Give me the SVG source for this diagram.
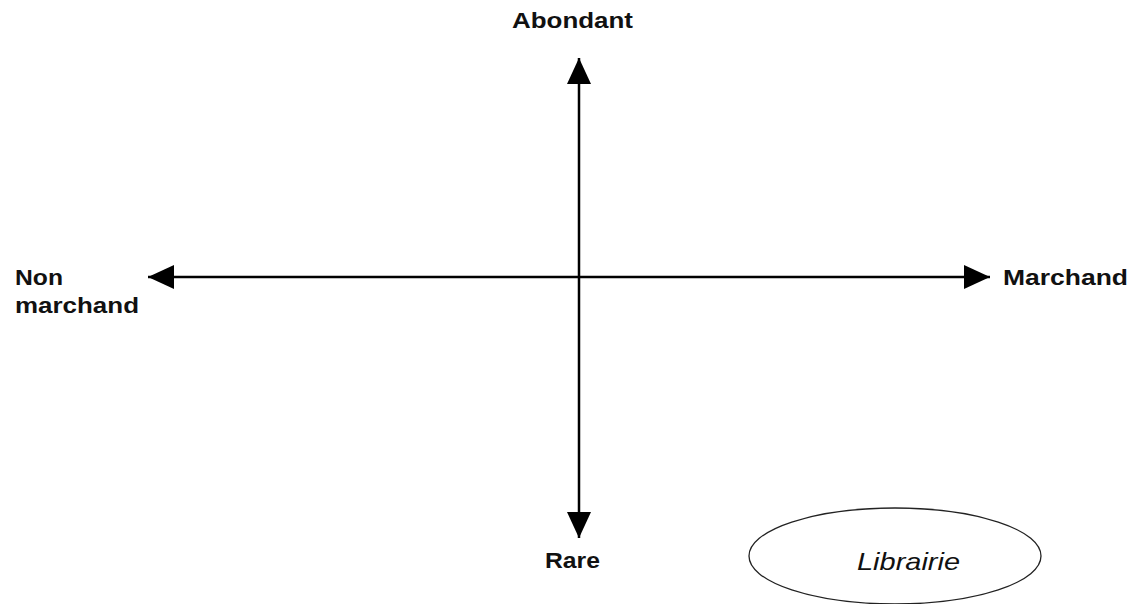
<svg xmlns="http://www.w3.org/2000/svg" width="1134" height="604" viewBox="0 0 1134 604">
<style>
.lbl{font-family:"Liberation Sans",Arial,sans-serif;font-size:22px;font-weight:bold;fill:#111}
.it{font-family:"Liberation Sans",Arial,sans-serif;font-size:24px;font-style:italic;fill:#111}
.ax{stroke:#000;stroke-width:2.5;fill:none}
</style>
<defs>
<marker id="ah" viewBox="0 0 26 24" refX="26" refY="12" markerWidth="26" markerHeight="24" markerUnits="userSpaceOnUse" orient="auto-start-reverse">
<path d="M0,0 L26,12 L0,24 Z" fill="#000"/>
</marker>
</defs>
<rect width="1134" height="604" fill="#fff"/>
<g id="connectors">
<line class="ax" x1="579" y1="58" x2="579" y2="538" marker-start="url(#ah)" marker-end="url(#ah)"/>
<line class="ax" x1="148" y1="277" x2="990" y2="277" marker-start="url(#ah)" marker-end="url(#ah)"/>
</g>
<g id="abondant"><text class="lbl" x="512" y="28" textLength="121" lengthAdjust="spacingAndGlyphs">Abondant</text></g>
<g id="rare"><text class="lbl" x="545" y="568" textLength="55" lengthAdjust="spacingAndGlyphs">Rare</text></g>
<g id="nonmarchand"><text class="lbl" x="15" y="285" textLength="48" lengthAdjust="spacingAndGlyphs">Non</text><text class="lbl" x="15" y="313" textLength="124" lengthAdjust="spacingAndGlyphs">marchand</text></g>
<g id="marchand"><text class="lbl" x="1003" y="285" textLength="125" lengthAdjust="spacingAndGlyphs">Marchand</text></g>
<g id="librairie">
<ellipse cx="895" cy="556" rx="146" ry="48" fill="none" stroke="#222" stroke-width="1.3"/>
<text class="it" x="857" y="570" textLength="103" lengthAdjust="spacingAndGlyphs">Librairie</text>
</g>
</svg>
